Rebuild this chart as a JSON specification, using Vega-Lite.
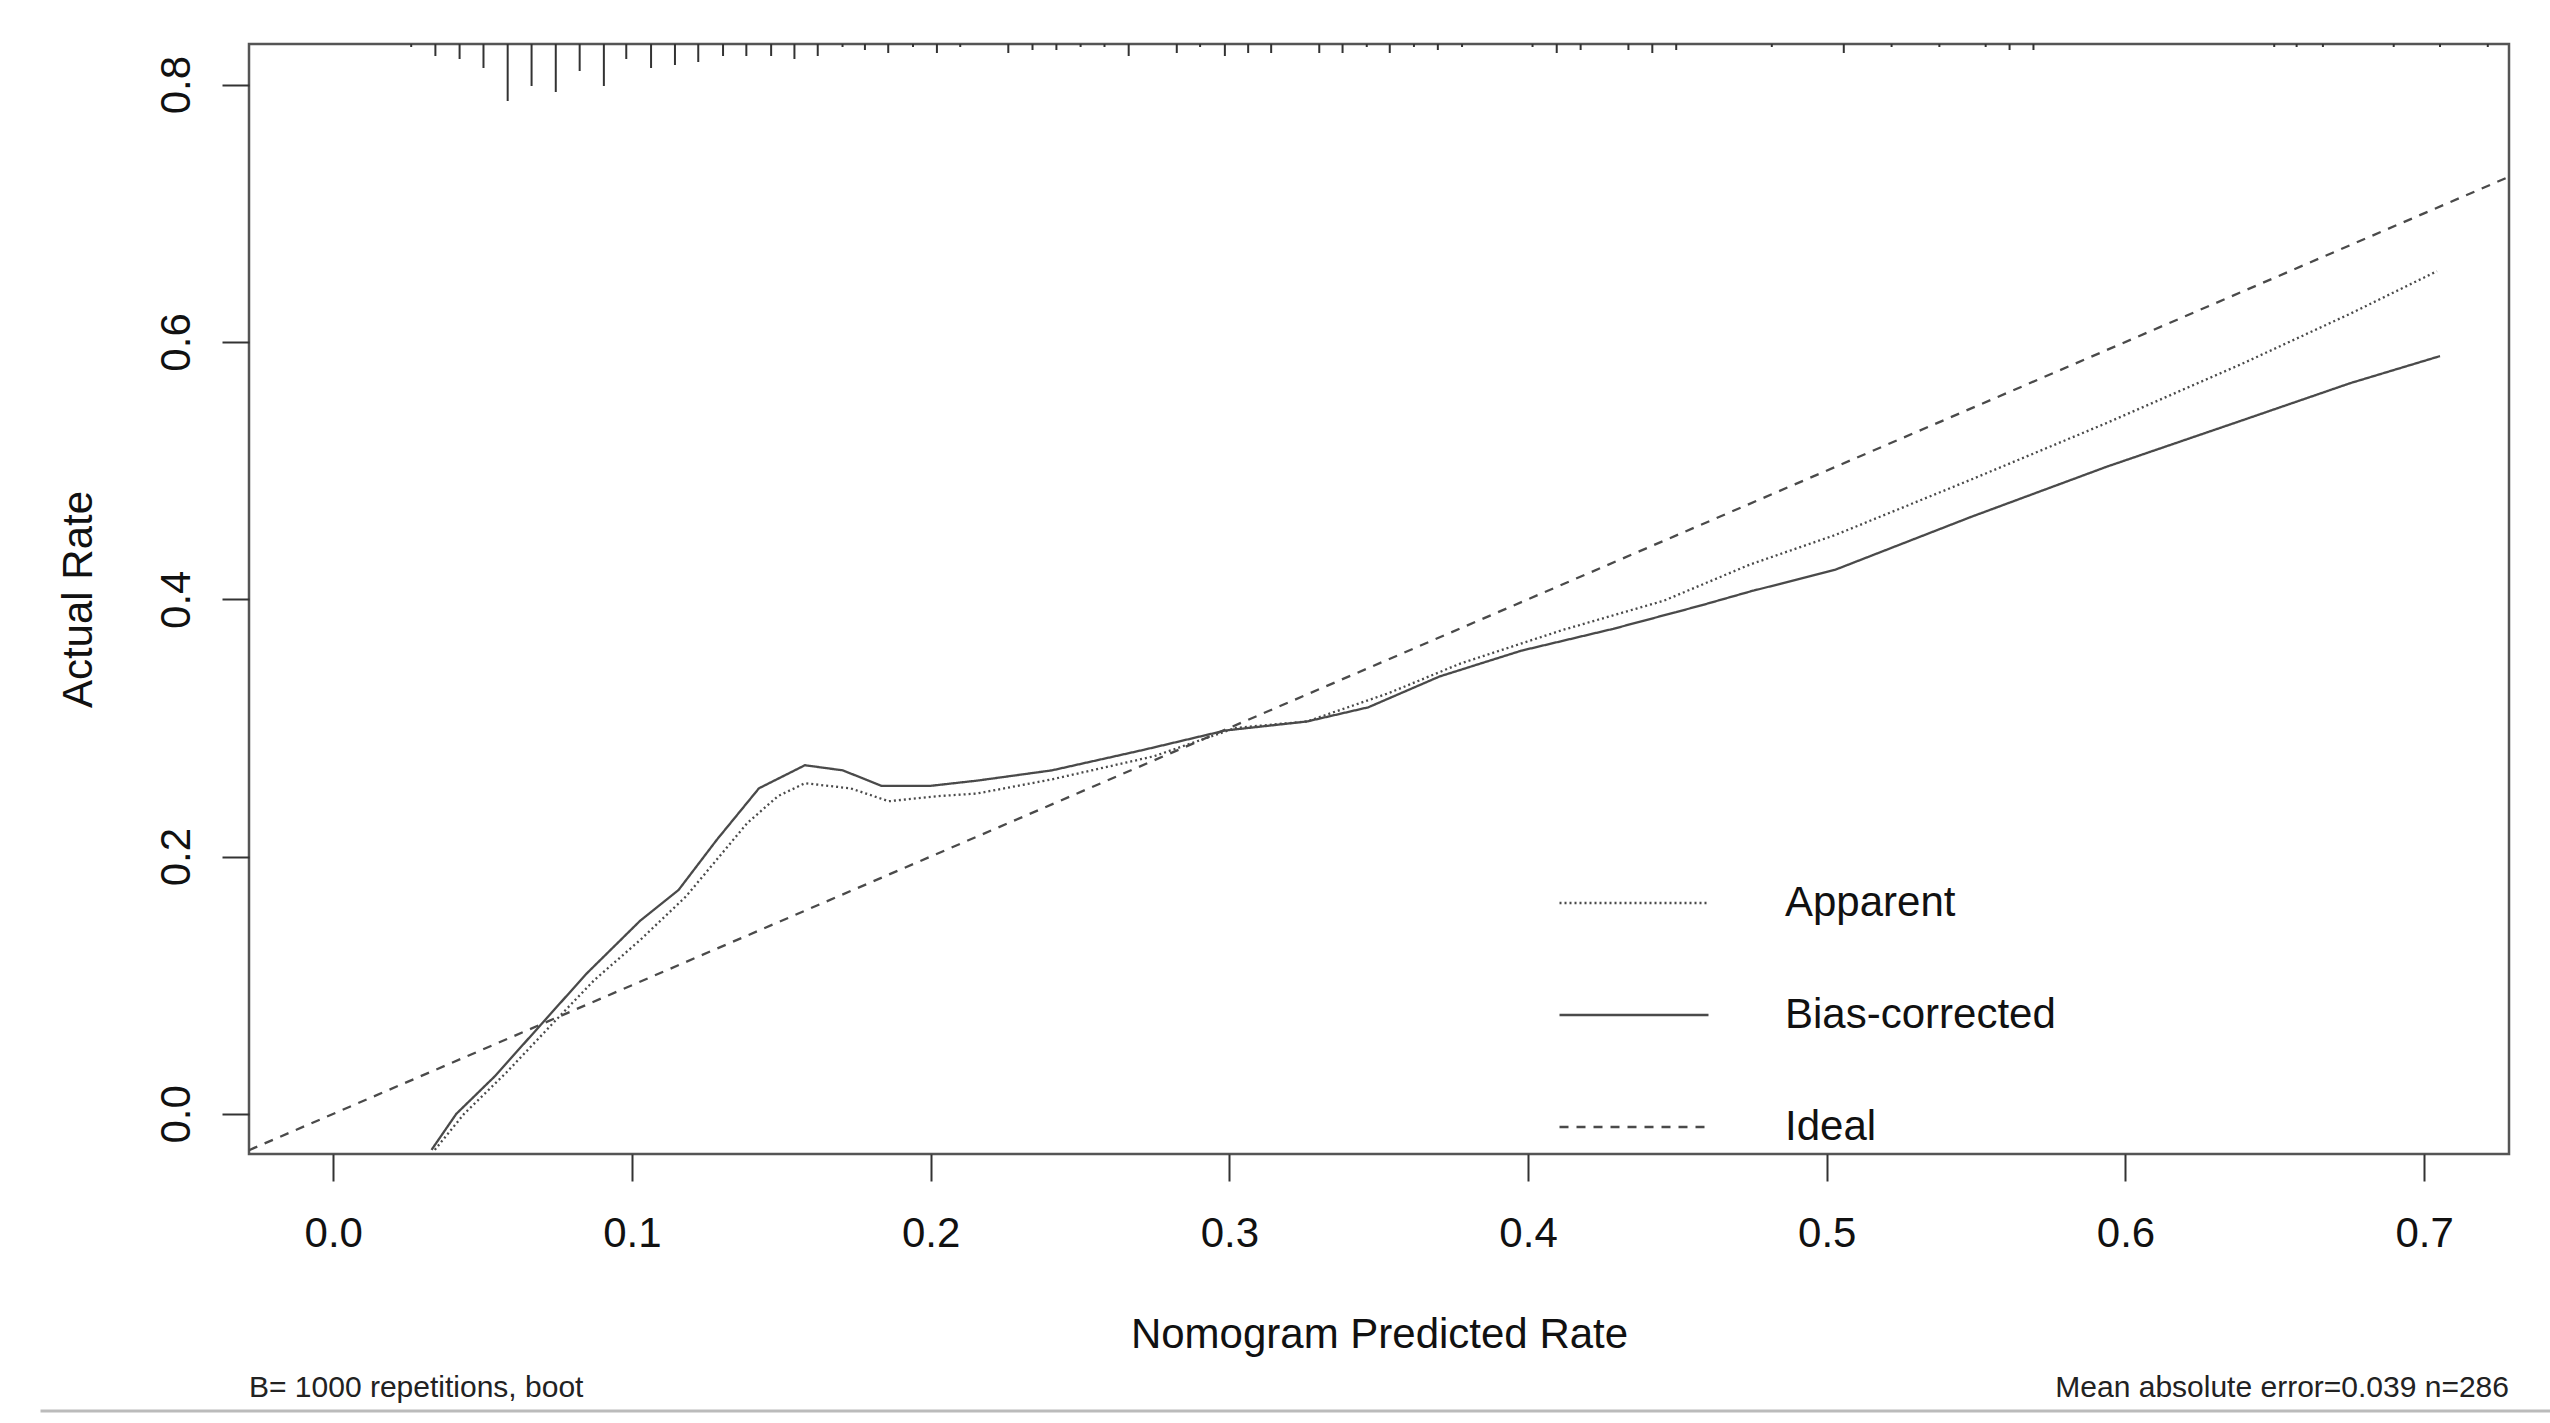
{
  "$schema": "https://vega.github.io/schema/vega-lite/v6.json",
  "autosize": "none",
  "width": 2260,
  "height": 1110,
  "padding": {"left": 249, "top": 44, "right": 41, "bottom": 269},
  "background": "white",
  "config": {
    "font": "Liberation Sans",
    "view": {"stroke": "#555", "strokeWidth": 2.5},
    "axis": {
      "domain": false,
      "grid": false,
      "ticks": true,
      "tickColor": "#333",
      "tickWidth": 2,
      "tickSize": 27,
      "labelFont": "Liberation Sans",
      "labelFontSize": 42,
      "labelColor": "#111",
      "titleFont": "Liberation Sans",
      "titleFontSize": 42,
      "titleFontWeight": "normal",
      "titleColor": "#111"
    },
    "legend": {
      "labelFont": "Liberation Sans",
      "labelFontSize": 42,
      "labelColor": "#111",
      "labelLimit": 0
    }
  },
  "datasets": {
    "curves": [
      {"series": "Apparent", "x": 0.034, "y": -0.028},
      {"series": "Apparent", "x": 0.0438, "y": 0.0},
      {"series": "Apparent", "x": 0.0579, "y": 0.032},
      {"series": "Apparent", "x": 0.0746, "y": 0.073},
      {"series": "Apparent", "x": 0.0874, "y": 0.104},
      {"series": "Apparent", "x": 0.1027, "y": 0.135},
      {"series": "Apparent", "x": 0.1181, "y": 0.169},
      {"series": "Apparent", "x": 0.1386, "y": 0.226},
      {"series": "Apparent", "x": 0.1489, "y": 0.247},
      {"series": "Apparent", "x": 0.1579, "y": 0.257},
      {"series": "Apparent", "x": 0.1732, "y": 0.253},
      {"series": "Apparent", "x": 0.186, "y": 0.243},
      {"series": "Apparent", "x": 0.2027, "y": 0.247},
      {"series": "Apparent", "x": 0.2155, "y": 0.249},
      {"series": "Apparent", "x": 0.2406, "y": 0.26},
      {"series": "Apparent", "x": 0.2748, "y": 0.278},
      {"series": "Apparent", "x": 0.3021, "y": 0.3},
      {"series": "Apparent", "x": 0.326, "y": 0.305},
      {"series": "Apparent", "x": 0.3533, "y": 0.327},
      {"series": "Apparent", "x": 0.3773, "y": 0.35},
      {"series": "Apparent", "x": 0.4114, "y": 0.376},
      {"series": "Apparent", "x": 0.4456, "y": 0.399},
      {"series": "Apparent", "x": 0.4743, "y": 0.427},
      {"series": "Apparent", "x": 0.5029, "y": 0.45},
      {"series": "Apparent", "x": 0.5483, "y": 0.493},
      {"series": "Apparent", "x": 0.5937, "y": 0.537},
      {"series": "Apparent", "x": 0.639, "y": 0.583},
      {"series": "Apparent", "x": 0.6753, "y": 0.622},
      {"series": "Apparent", "x": 0.7043, "y": 0.655},
      {"series": "Bias-corrected", "x": 0.0329, "y": -0.028},
      {"series": "Bias-corrected", "x": 0.0412, "y": 0.0},
      {"series": "Bias-corrected", "x": 0.054, "y": 0.029},
      {"series": "Bias-corrected", "x": 0.0694, "y": 0.069},
      {"series": "Bias-corrected", "x": 0.0848, "y": 0.109},
      {"series": "Bias-corrected", "x": 0.1027, "y": 0.15},
      {"series": "Bias-corrected", "x": 0.1156, "y": 0.174},
      {"series": "Bias-corrected", "x": 0.1284, "y": 0.213},
      {"series": "Bias-corrected", "x": 0.1425, "y": 0.253},
      {"series": "Bias-corrected", "x": 0.1579, "y": 0.271},
      {"series": "Bias-corrected", "x": 0.1706, "y": 0.267},
      {"series": "Bias-corrected", "x": 0.1835, "y": 0.255},
      {"series": "Bias-corrected", "x": 0.2001, "y": 0.255},
      {"series": "Bias-corrected", "x": 0.2155, "y": 0.259},
      {"series": "Bias-corrected", "x": 0.2406, "y": 0.267},
      {"series": "Bias-corrected", "x": 0.2714, "y": 0.283},
      {"series": "Bias-corrected", "x": 0.2987, "y": 0.298},
      {"series": "Bias-corrected", "x": 0.326, "y": 0.305},
      {"series": "Bias-corrected", "x": 0.3465, "y": 0.316},
      {"series": "Bias-corrected", "x": 0.3704, "y": 0.34},
      {"series": "Bias-corrected", "x": 0.3977, "y": 0.36},
      {"series": "Bias-corrected", "x": 0.4285, "y": 0.377},
      {"series": "Bias-corrected", "x": 0.4576, "y": 0.395},
      {"series": "Bias-corrected", "x": 0.4743, "y": 0.406},
      {"series": "Bias-corrected", "x": 0.5029, "y": 0.423},
      {"series": "Bias-corrected", "x": 0.5483, "y": 0.464},
      {"series": "Bias-corrected", "x": 0.5937, "y": 0.503},
      {"series": "Bias-corrected", "x": 0.639, "y": 0.539},
      {"series": "Bias-corrected", "x": 0.6753, "y": 0.568},
      {"series": "Bias-corrected", "x": 0.7053, "y": 0.589},
      {"series": "Ideal", "x": -0.0282, "y": -0.0282},
      {"series": "Ideal", "x": 0.7284, "y": 0.7284}
    ],
    "rug": [
      {"x": 0.0261, "n": 1}, {"x": 0.0342, "n": 4}, {"x": 0.0423, "n": 5},
      {"x": 0.0503, "n": 8}, {"x": 0.0584, "n": 19}, {"x": 0.0664, "n": 14},
      {"x": 0.0745, "n": 16}, {"x": 0.0825, "n": 9}, {"x": 0.0906, "n": 14},
      {"x": 0.0981, "n": 5}, {"x": 0.1064, "n": 8}, {"x": 0.1144, "n": 7},
      {"x": 0.1222, "n": 6}, {"x": 0.1305, "n": 4}, {"x": 0.1383, "n": 4},
      {"x": 0.1466, "n": 4}, {"x": 0.1544, "n": 5}, {"x": 0.1622, "n": 4},
      {"x": 0.1705, "n": 1}, {"x": 0.178, "n": 2}, {"x": 0.1858, "n": 3},
      {"x": 0.1941, "n": 1}, {"x": 0.2021, "n": 3}, {"x": 0.2099, "n": 1},
      {"x": 0.226, "n": 3}, {"x": 0.2341, "n": 2}, {"x": 0.2421, "n": 2},
      {"x": 0.2502, "n": 1}, {"x": 0.2582, "n": 1}, {"x": 0.2663, "n": 4},
      {"x": 0.2824, "n": 3}, {"x": 0.2902, "n": 1}, {"x": 0.2985, "n": 4},
      {"x": 0.3063, "n": 3}, {"x": 0.314, "n": 3}, {"x": 0.3301, "n": 3},
      {"x": 0.3379, "n": 3}, {"x": 0.346, "n": 1}, {"x": 0.3537, "n": 3},
      {"x": 0.3618, "n": 1}, {"x": 0.3698, "n": 2}, {"x": 0.3779, "n": 1},
      {"x": 0.4015, "n": 1}, {"x": 0.4096, "n": 3}, {"x": 0.4176, "n": 2},
      {"x": 0.4336, "n": 2}, {"x": 0.4416, "n": 3}, {"x": 0.4496, "n": 2},
      {"x": 0.4816, "n": 1}, {"x": 0.5057, "n": 3}, {"x": 0.5217, "n": 1},
      {"x": 0.5377, "n": 1}, {"x": 0.5532, "n": 1}, {"x": 0.5612, "n": 2},
      {"x": 0.5692, "n": 2}, {"x": 0.6498, "n": 1}, {"x": 0.6573, "n": 1},
      {"x": 0.6661, "n": 1}, {"x": 0.6898, "n": 1}, {"x": 0.7053, "n": 1},
      {"x": 0.7213, "n": 1}
    ],
    "notes": [
      {"note": "B= 1000 repetitions, boot", "side": "left"},
      {"note": "Mean absolute error=0.039 n=286", "side": "right"}
    ]
  },
  "resolve": {"scale": {"y": "independent"}},
  "layer": [
    {
      "data": {"name": "curves"},
      "mark": {"type": "line", "color": "#4a4a4a", "strokeWidth": 2.3, "clip": true},
      "encoding": {
        "x": {
          "field": "x",
          "type": "quantitative",
          "scale": {"domain": [-0.0282, 0.7284], "nice": false, "zero": false},
          "axis": {
            "title": "Nomogram Predicted Rate",
            "values": [0, 0.1, 0.2, 0.3, 0.4, 0.5, 0.6, 0.7],
            "format": ".1f",
            "labelPadding": 32,
            "titlePadding": 60
          }
        },
        "y": {
          "field": "y",
          "type": "quantitative",
          "scale": {"domain": [-0.0312, 0.8316], "nice": false, "zero": false},
          "axis": {
            "title": "Actual Rate",
            "values": [0, 0.2, 0.4, 0.6, 0.8],
            "format": ".1f",
            "labelAngle": -90,
            "labelAlign": "center",
            "labelBaseline": "bottom",
            "labelPadding": 24,
            "titlePadding": 55
          }
        },
        "strokeDash": {
          "field": "series",
          "type": "nominal",
          "scale": {
            "domain": ["Apparent", "Bias-corrected", "Ideal"],
            "range": [[2, 3], [1, 0], [9, 8]]
          },
          "legend": {
            "title": null,
            "orient": "none",
            "legendX": 1309,
            "legendY": 783,
            "symbolType": "stroke",
            "symbolSize": 22200,
            "symbolStrokeWidth": 2.5,
            "symbolStrokeColor": "#4a4a4a",
            "labelOffset": 75,
            "rowPadding": 15
          }
        }
      }
    },
    {
      "data": {"name": "rug"},
      "mark": {"type": "rule", "color": "#333", "strokeWidth": 2},
      "encoding": {
        "x": {"field": "x", "type": "quantitative"},
        "y": {
          "field": "n",
          "type": "quantitative",
          "scale": {"domain": [0, 370], "reverse": true, "nice": false},
          "axis": null
        },
        "y2": {"datum": 0}
      }
    },
    {
      "data": {"name": "notes"},
      "transform": [{"filter": "datum.side == 'left'"}],
      "mark": {"type": "text", "align": "left", "baseline": "middle", "fontSize": 30, "color": "#222"},
      "encoding": {
        "text": {"field": "note"},
        "x": {"datum": -0.0282},
        "y": {"datum": -0.2131, "scale": {"domain": [-0.0312, 0.8316], "nice": false, "zero": false}, "axis": null}
      }
    },
    {
      "data": {"name": "notes"},
      "transform": [{"filter": "datum.side == 'right'"}],
      "mark": {"type": "text", "align": "right", "baseline": "middle", "fontSize": 30, "color": "#222"},
      "encoding": {
        "text": {"field": "note"},
        "x": {"datum": 0.7284},
        "y": {"datum": -0.2131, "scale": {"domain": [-0.0312, 0.8316], "nice": false, "zero": false}, "axis": null}
      }
    },
    {
      "data": {"values": [{}]},
      "mark": {"type": "rule", "color": "#bbb", "strokeWidth": 3},
      "encoding": {
        "x": {"datum": -0.098},
        "x2": {"datum": 0.745},
        "y": {"datum": -0.231, "scale": {"domain": [-0.0312, 0.8316], "nice": false, "zero": false}, "axis": null}
      }
    }
  ]
}
